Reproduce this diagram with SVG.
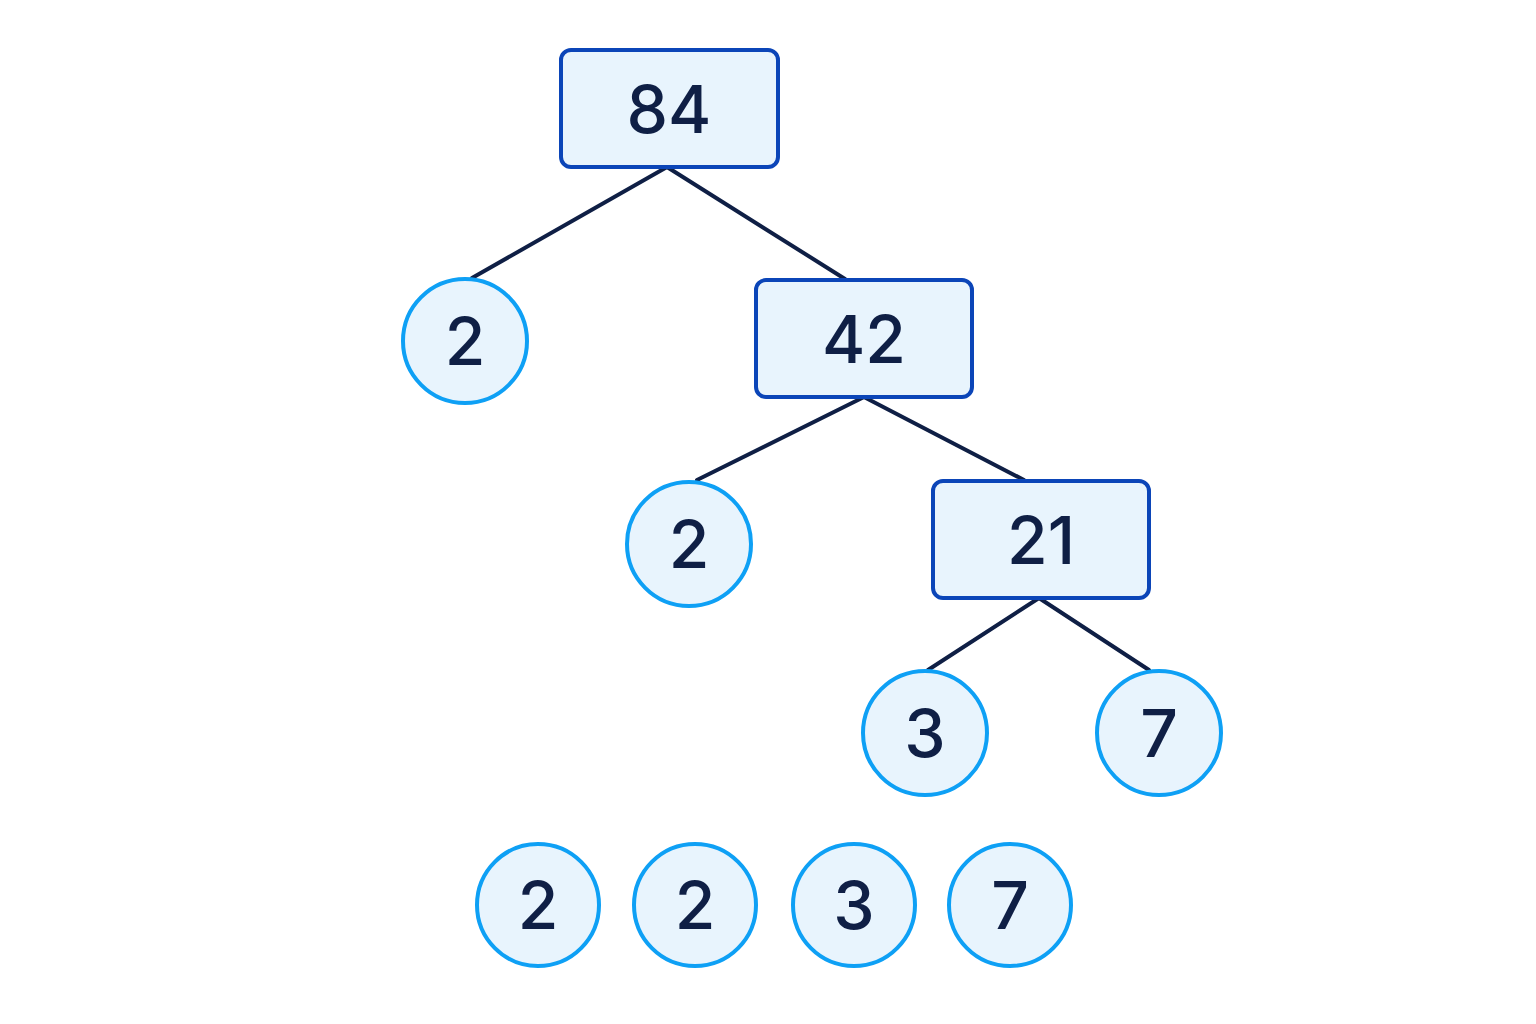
<svg xmlns="http://www.w3.org/2000/svg" width="1536" height="1024" viewBox="0 0 1536 1024">
<style>
.box{fill:#e8f4fd;stroke:#0b45b8;stroke-width:4}
.cir{fill:#e8f4fd;stroke:#0ea0f5;stroke-width:4}
.edge{stroke:#0f1f45;stroke-width:4;fill:none;stroke-linecap:round}
text{font-family:Inter,"Noto Sans",sans-serif;font-size:66px;font-weight:500;fill:#0f1f45;text-anchor:middle;dominant-baseline:central}
</style>
<rect width="1536" height="1024" fill="#fff"/>
<g id="connectors">
<line class="edge" x1="667" y1="167" x2="472" y2="278"/>
<line class="edge" x1="667" y1="167" x2="845" y2="279"/>
<line class="edge" x1="864" y1="397" x2="697" y2="480"/>
<line class="edge" x1="864" y1="397" x2="1024" y2="480"/>
<line class="edge" x1="1039" y1="598" x2="928" y2="670"/>
<line class="edge" x1="1039" y1="598" x2="1149" y2="670"/>
</g>
<g id="n84"><rect class="box" x="561" y="50" width="217" height="117" rx="10"/><text x="669" y="109">84</text></g>
<g id="n2a"><circle class="cir" cx="465" cy="341" r="62"/><text x="465" y="341">2</text></g>
<g id="n42"><rect class="box" x="756" y="280" width="216" height="117" rx="10"/><text x="864" y="339">42</text></g>
<g id="n2b"><circle class="cir" cx="689" cy="544" r="62"/><text x="689" y="544">2</text></g>
<g id="n21"><rect class="box" x="933" y="481" width="216" height="117" rx="10"/><text x="1041" y="540">21</text></g>
<g id="n3"><circle class="cir" cx="925" cy="733" r="62"/><text x="925" y="733">3</text></g>
<g id="n7"><circle class="cir" cx="1159" cy="733" r="62"/><text x="1159" y="733">7</text></g>
<g id="r1"><circle class="cir" cx="538" cy="905" r="61"/><text x="538" y="905">2</text></g>
<g id="r2"><circle class="cir" cx="695" cy="905" r="61"/><text x="695" y="905">2</text></g>
<g id="r3"><circle class="cir" cx="854" cy="905" r="61"/><text x="854" y="905">3</text></g>
<g id="r4"><circle class="cir" cx="1010" cy="905" r="61"/><text x="1010" y="905">7</text></g>
</svg>
